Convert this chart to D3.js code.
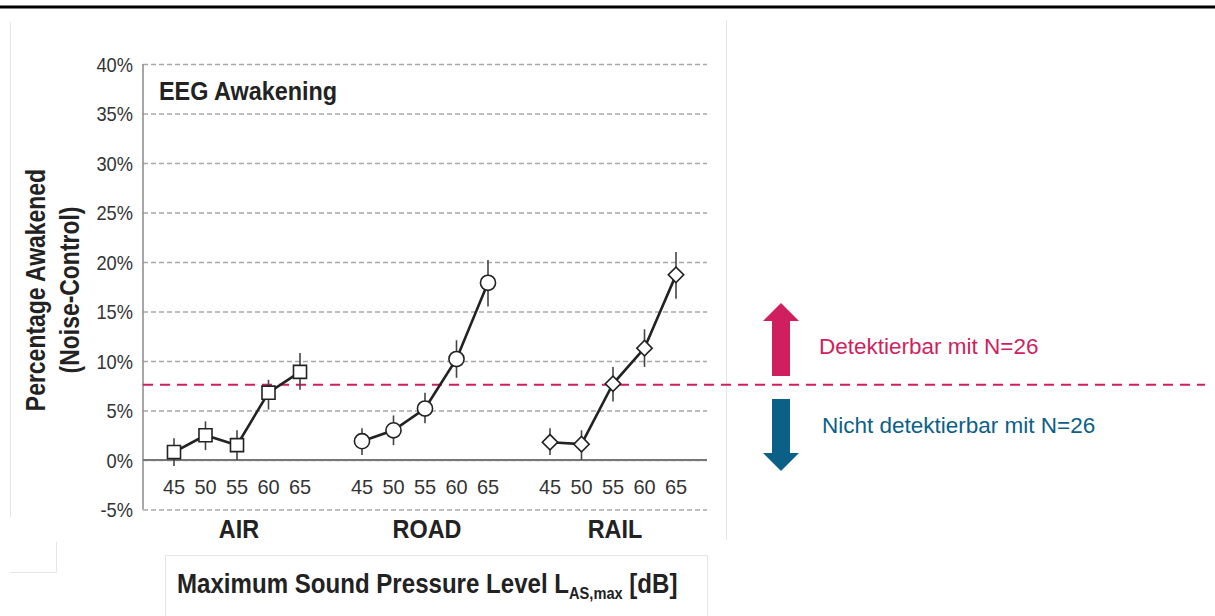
<!DOCTYPE html>
<html>
<head>
<meta charset="utf-8">
<script src="https://cdn.jsdelivr.net/npm/d3@7"></script>
<style>
  body { margin: 0; background: #fff; }
  svg { display: block; }
  text { font-family: "Liberation Sans", Arial, sans-serif; }
</style>
</head>
<body>
<div id="chart"></div>
<script>
var width = 1215;
var height = 616;

// data (percent awakened, noise minus control)
var groups = ['AIR', 'ROAD', 'RAIL'];
var levels = [45, 50, 55, 60, 65];
var yTicks = [-5, 0, 5, 10, 15, 20, 25, 30, 35, 40];

var airVals = [0.8, 2.5, 1.5, 6.8, 8.9];
var airLow = [-0.6, 1.0, 0.0, 5.1, 7.1];
var airHigh = [2.2, 3.9, 3.0, 8.1, 10.8];

var roadVals = [1.9, 3.0, 5.2, 10.2, 17.9];
var roadLow = [0.5, 1.5, 3.7, 8.3, 15.5];
var roadHigh = [3.2, 4.5, 6.8, 12.1, 20.2];

var railVals = [1.8, 1.6, 7.7, 11.3, 18.7];
var railLow = [0.5, 0.0, 5.9, 9.4, 16.3];
var railHigh = [3.2, 3.0, 9.4, 13.2, 21.0];

var threshold = 7.6;

var seriesVals = [airVals, roadVals, railVals];
var seriesLow = [airLow, roadLow, railLow];
var seriesHigh = [airHigh, roadHigh, railHigh];
var markers = ['square', 'circle', 'diamond'];

var red = '#d01f5e';
var blue = '#0b6088';

var svg = d3.select('#chart').append('svg')
    .attr('width', width)
    .attr('height', height);

// condensed-looking text: no narrow font installed, so squeeze horizontally
function narrowText(parent, x, y, size, sx, txt, opts) {
    opts = opts || {};
    var g = parent.append('g')
        .attr('transform', `translate(${x}, ${y})` + (opts.rotate ? ` rotate(${opts.rotate})` : '') + ` scale(${sx}, 1)`);
    var t = g.append('text')
        .attr('x', 0).attr('y', 0)
        .attr('font-size', size)
        .attr('font-weight', opts.bold ? 'bold' : 'normal')
        .attr('text-anchor', opts.anchor || 'start')
        .attr('fill', opts.fill || '#222');
    if (txt !== null) t.text(txt);
    return t;
}

// faint frames of the pasted picture
var frame = svg.append('g').attr('stroke', '#e6e6e6').attr('fill', 'none').attr('stroke-width', 1);
frame.append('path').attr('d', 'M10.5,22V517');
frame.append('path').attr('d', 'M726.5,20V540');
frame.append('path').attr('d', 'M10,572.5H56.5V542');
frame.append('path').attr('d', 'M165.5,616V555.5H707.5V616');

// black rule at the very top
svg.append('line')
    .attr('x1', 0).attr('x2', width)
    .attr('y1', 7).attr('y2', 7)
    .attr('stroke', '#000')
    .attr('stroke-width', 3);

var plotLeft = 143;
var plotRight = 707;

var y = d3.scaleLinear().domain([-5, 40]).range([509.5, 64]);
var xGroup = d3.scaleBand().domain(groups).range([plotLeft, plotRight]);
var xLevel = d3.scalePoint().domain(levels).range([-63, 63]);

function xPos(g, lv) {
    return xGroup(g) + xGroup.bandwidth() / 2 + xLevel(lv);
}

// dashed grid lines via axisLeft (labels drawn separately, squeezed)
var yAxis = d3.axisLeft(y)
    .tickValues(yTicks)
    .tickFormat('')
    .tickSize(-(plotRight - plotLeft));

var yAxis_g = svg.append('g')
    .attr('transform', `translate(${plotLeft}, 0)`)
    .call(yAxis);
yAxis_g.select('.domain').remove();
yAxis_g.selectAll('.tick line')
    .attr('stroke', '#a8a8a8')
    .attr('stroke-width', 1.3)
    .attr('stroke-dasharray', '5,3');

yTicks.forEach(function (t) {
    narrowText(svg, 133, y(t) + 7.5, 21, 0.87, t + '%', { anchor: 'end', fill: '#333' });
});

// left axis line
svg.append('line')
    .attr('x1', plotLeft).attr('x2', plotLeft)
    .attr('y1', y(40)).attr('y2', y(-5))
    .attr('stroke', '#8a8a8a')
    .attr('stroke-width', 1.5);

// zero line
svg.append('line')
    .attr('x1', plotLeft).attr('x2', plotRight)
    .attr('y1', y(0)).attr('y2', y(0))
    .attr('stroke', '#777')
    .attr('stroke-width', 2);

// x tick labels (45..65 under each group)
groups.forEach(function (g) {
    levels.forEach(function (lv) {
        narrowText(svg, xPos(g, lv), 494, 21, 0.95, lv, { anchor: 'middle', fill: '#333' });
    });
});

// group labels
groups.forEach(function (g) {
    narrowText(svg, xGroup(g) + xGroup.bandwidth() / 2 + 2, 538, 26, 0.9, g, { anchor: 'middle', bold: true });
});

// title inside panel
narrowText(svg, 159, 100, 26, 0.9, 'EEG Awakening', { bold: true });

// y axis title
narrowText(svg, 45, 290, 27, 0.85, 'Percentage Awakened', { anchor: 'middle', bold: true, rotate: -90 });
narrowText(svg, 79, 290, 27, 0.85, '(Noise-Control)', { anchor: 'middle', bold: true, rotate: -90 });

// x axis title with subscript
var xTitle = narrowText(svg, 177, 593, 28, 0.86, null, { bold: true });
xTitle.append('tspan').text('Maximum Sound Pressure Level L');
xTitle.append('tspan').attr('font-size', 17).attr('dy', 6).text('AS,max');
xTitle.append('tspan').attr('dy', -6).text(' [dB]');

// threshold line
svg.append('line')
    .attr('x1', plotLeft).attr('x2', 1205)
    .attr('y1', y(threshold)).attr('y2', y(threshold))
    .attr('stroke', red)
    .attr('stroke-width', 2)
    .attr('stroke-dasharray', '10,7');

// series: error bars, lines, markers
var line = d3.line()
    .x(d => d.x)
    .y(d => y(d.v));

groups.forEach(function (g, gi) {
    var pts = levels.map(function (lv, i) {
        return { x: xPos(g, lv), v: seriesVals[gi][i], lo: seriesLow[gi][i], hi: seriesHigh[gi][i] };
    });

    svg.append('g').selectAll('line')
        .data(pts)
        .enter()
        .append('line')
        .attr('x1', d => d.x).attr('x2', d => d.x)
        .attr('y1', d => y(d.lo)).attr('y2', d => y(d.hi))
        .attr('stroke', '#444')
        .attr('stroke-width', 1.6);

    svg.append('path')
        .datum(pts)
        .attr('d', line)
        .attr('fill', 'none')
        .attr('stroke', '#222')
        .attr('stroke-width', 2.6);

    var sym;
    var rot = '';
    if (markers[gi] === 'square') sym = d3.symbol(d3.symbolSquare, 170);
    else if (markers[gi] === 'circle') sym = d3.symbol(d3.symbolCircle, 180);
    else { sym = d3.symbol(d3.symbolSquare, 118); rot = ' rotate(45)'; }

    svg.append('g').selectAll('path')
        .data(pts)
        .enter()
        .append('path')
        .attr('d', sym)
        .attr('transform', d => `translate(${d.x}, ${y(d.v)})` + rot)
        .attr('fill', '#fff')
        .attr('stroke', '#222')
        .attr('stroke-width', 1.6);
});

// arrows on the right
var arrowX = 781;
svg.append('path')
    .attr('d', `M${arrowX},303 L${arrowX + 18},321 L${arrowX + 9},321 L${arrowX + 9},376 L${arrowX - 9},376 L${arrowX - 9},321 L${arrowX - 18},321 Z`)
    .attr('fill', red);
svg.append('path')
    .attr('d', `M${arrowX},471 L${arrowX + 18},453 L${arrowX + 9},453 L${arrowX + 9},399 L${arrowX - 9},399 L${arrowX - 9},453 L${arrowX - 18},453 Z`)
    .attr('fill', blue);

svg.append('text')
    .attr('x', 819)
    .attr('y', 354)
    .attr('font-size', 22.5)
    .attr('fill', red)
    .text('Detektierbar mit N=26');

svg.append('text')
    .attr('x', 822)
    .attr('y', 433)
    .attr('font-size', 22.5)
    .attr('fill', blue)
    .text('Nicht detektierbar mit N=26');
</script>
</body>
</html>
